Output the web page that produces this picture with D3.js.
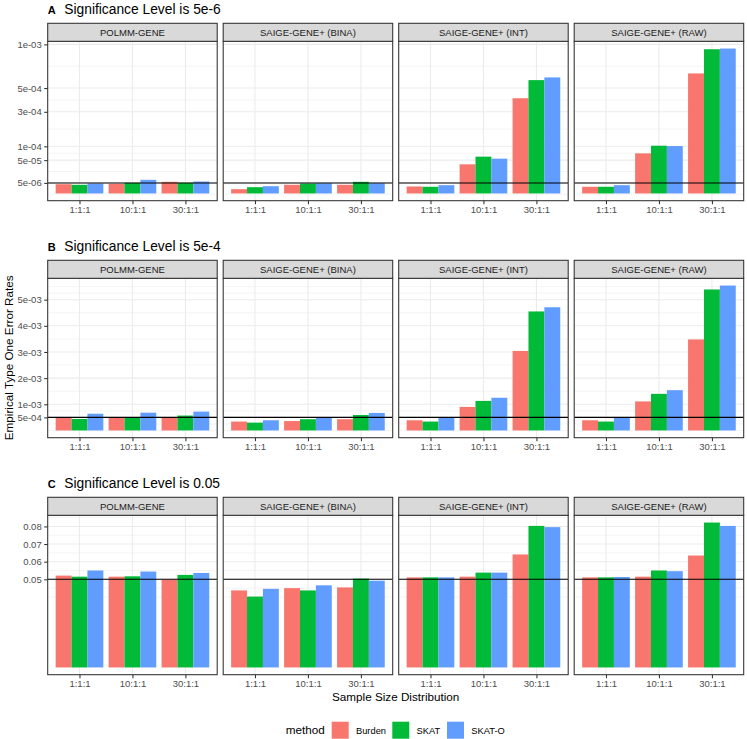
<!DOCTYPE html>
<html>
<head>
<meta charset="utf-8">
<script src="https://cdn.jsdelivr.net/npm/d3@7"></script>
<style>
  html, body { margin: 0; padding: 0; background: #fff; }
  svg { display: block; font-family: "Liberation Sans", Arial, sans-serif; }
</style>
</head>
<body>
<svg id="chart" width="747" height="739"></svg>
<script>
// ---------------- data ----------------
const facets = ["POLMM-GENE", "SAIGE-GENE+ (BINA)", "SAIGE-GENE+ (INT)", "SAIGE-GENE+ (RAW)"];
const ratios = ["1:1:1", "10:1:1", "30:1:1"];
const methods = ["Burden", "SKAT", "SKAT-O"];
const methodColors = ["#F8766D", "#00BA38", "#619CFF"];

// values[facet][ratio][method]
const valuesA = [
  [[3.85e-6, 3.37e-6, 4.45e-6], [4.19e-6, 5.1e-6, 8.35e-6], [6.09e-6, 5.1e-6, 6.41e-6]],
  [[8.2e-7, 1.77e-6, 2.37e-6], [3.37e-6, 4.45e-6, 4.72e-6], [3.37e-6, 6.09e-6, 4.72e-6]],
  [[2.18e-6, 2.0e-6, 3.07e-6], [3.82e-5, 6.09e-5, 5.45e-5], [4.08e-4, 5.78e-4, 6.06e-4]],
  [[2.0e-6, 2.0e-6, 3.07e-6], [7.23e-5, 1.025e-4, 1.01e-4], [6.48e-4, 9.36e-4, 9.45e-4]]
];
const valuesB = [
  [[0.49e-3, 0.44e-3, 0.64e-3], [0.49e-3, 0.50e-3, 0.68e-3], [0.49e-3, 0.57e-3, 0.72e-3]],
  [[0.34e-3, 0.30e-3, 0.39e-3], [0.36e-3, 0.43e-3, 0.49e-3], [0.43e-3, 0.59e-3, 0.67e-3]],
  [[0.39e-3, 0.34e-3, 0.49e-3], [0.90e-3, 1.13e-3, 1.25e-3], [3.04e-3, 4.55e-3, 4.71e-3]],
  [[0.39e-3, 0.34e-3, 0.49e-3], [1.11e-3, 1.40e-3, 1.54e-3], [3.48e-3, 5.39e-3, 5.54e-3]]
];
const valuesC = [
  [[0.0521, 0.0515, 0.0550], [0.0515, 0.0517, 0.0544], [0.0498, 0.0525, 0.0536]],
  [[0.0437, 0.0402, 0.0446], [0.0450, 0.0437, 0.0466], [0.0454, 0.0504, 0.0492]],
  [[0.0511, 0.0511, 0.0511], [0.0515, 0.0538, 0.0538], [0.0641, 0.0803, 0.0796]],
  [[0.0511, 0.0511, 0.0513], [0.0515, 0.0550, 0.0546], [0.0635, 0.0822, 0.0803]]
];

const breaksA = [5e-6, 5e-5, 1e-4, 3e-4, 5e-4, 1e-3];
const labelsA = ["5e-06", "5e-05", "1e-04", "3e-04", "5e-04", "1e-03"];
const breaksB = [5e-4, 1e-3, 2e-3, 3e-3, 4e-3, 5e-3];
const labelsB = ["5e-04", "1e-03", "2e-03", "3e-03", "4e-03", "5e-03"];
const breaksC = [0.05, 0.06, 0.07, 0.08];
const labelsC = ["0.05", "0.06", "0.07", "0.08"];

const tags = ["A", "B", "C"];
const titles = ["Significance Level is 5e-6", "Significance Level is 5e-4", "Significance Level is 0.05"];
const alphaLevels = [5e-6, 5e-4, 0.05];

const yTitle = "Empirical Type One Error Rates";
const xTitle = "Sample Size Distribution";
const legendTitle = "method";

// ---------------- layout ----------------
const svg = d3.select("#chart");
const panelLeft = 47.7, panelW = 169.5, panelGap = 6;
const panelH = 159.4, stripH = 18;
const rowTops = [41.3, 278.3, 515.3];

const rows = [
  { values: valuesA, breaks: breaksA, labels: labelsA, sqrt: true },
  { values: valuesB, breaks: breaksB, labels: labelsB, sqrt: false },
  { values: valuesC, breaks: breaksC, labels: labelsC, sqrt: false }
];

const fs = { tick: 9.5, strip: 9.5, title: 13.8, tag: 11, axisTitle: 11.7, legendText: 9.3 };

const defs = svg.append("defs");

rows.forEach((row, ri) => {
  const top = rowTops[ri];
  const bottom = top + panelH;
  const dmax = d3.max(row.values.flat(2));
  const pad = panelH * 0.05 / 1.1;
  const y = (row.sqrt ? d3.scaleSqrt() : d3.scaleLinear())
    .domain([0, dmax]).range([bottom - pad, top + pad]);

  const tf = row.sqrt ? (v => v < 0 ? -Math.sqrt(-v) : Math.sqrt(v)) : (v => v);
  const itf = row.sqrt ? (t => t < 0 ? -t * t : t * t) : (t => t);

  // ggplot-like minor breaks (transformed space)
  let tb = row.breaks.map(tf);
  const bd = tb[1] - tb[0];
  if (0 < tb[0]) tb = [tb[0] - bd].concat(tb);
  if (tf(dmax) > tb[tb.length - 1]) tb = tb.concat([tb[tb.length - 1] + bd]);
  const minor = [];
  for (let i = 0; i < tb.length - 1; i++) { minor.push(tb[i]); minor.push((tb[i] + tb[i + 1]) / 2); }
  minor.push(tb[tb.length - 1]);
  const majorT = row.breaks.map(tf);
  const minorVals = minor.filter(t => !majorT.some(m => Math.abs(m - t) < 1e-12)).map(itf);

  // Tag + title
  svg.append("text").attr("x", 47.7).attr("y", top - stripH - 9.3)
    .attr("font-size", fs.tag).attr("font-weight", "bold").attr("fill", "#000").text(tags[ri]);
  svg.append("text").attr("x", 64.3).attr("y", top - stripH - 9.3)
    .attr("font-size", fs.title).attr("fill", "#000").text(titles[ri]);

  facets.forEach((facet, fi) => {
    const x0 = panelLeft + fi * (panelW + panelGap);
    const x = d3.scalePoint().domain(ratios).range([x0, x0 + panelW]).padding(0.6);
    const inner = d3.scaleBand().domain(methods).range([0, x.step() * 0.9]).padding(0);

    const clipId = `clip-${ri}-${fi}`;
    defs.append("clipPath").attr("id", clipId).append("rect")
      .attr("x", x0).attr("y", top).attr("width", panelW).attr("height", panelH);

    const g = svg.append("g");
    g.append("rect").attr("x", x0).attr("y", top).attr("width", panelW).attr("height", panelH)
      .attr("fill", "#fff");

    const gg = g.append("g").attr("clip-path", `url(#${clipId})`);
    // minor y grid
    gg.selectAll(".minor").data(minorVals).join("line")
      .attr("x1", x0).attr("x2", x0 + panelW)
      .attr("y1", d => y(d)).attr("y2", d => y(d))
      .attr("stroke", "#EBEBEB").attr("stroke-width", 0.55);
    // major y grid
    gg.selectAll(".major").data(row.breaks).join("line")
      .attr("x1", x0).attr("x2", x0 + panelW)
      .attr("y1", d => y(d)).attr("y2", d => y(d))
      .attr("stroke", "#EBEBEB").attr("stroke-width", 1.07);
    // major x grid
    gg.selectAll(".xg").data(ratios).join("line")
      .attr("x1", d => x(d)).attr("x2", d => x(d))
      .attr("y1", top).attr("y2", bottom)
      .attr("stroke", "#EBEBEB").attr("stroke-width", 1.07);

    // bars
    const vals = row.values[fi];
    ratios.forEach((r, rj) => {
      const gx = x(r) - x.step() * 0.45;
      gg.selectAll(null).data(methods).join("rect")
        .attr("x", m => gx + inner(m))
        .attr("width", inner.bandwidth())
        .attr("y", (m, k) => y(vals[rj][k]))
        .attr("height", (m, k) => y(0) - y(vals[rj][k]))
        .attr("fill", (m, k) => methodColors[k]);
    });

    // significance line
    gg.append("line").attr("x1", x0).attr("x2", x0 + panelW)
      .attr("y1", y(alphaLevels[ri])).attr("y2", y(alphaLevels[ri]))
      .attr("stroke", "#000").attr("stroke-width", 1.07);

    // border
    g.append("rect").attr("x", x0).attr("y", top).attr("width", panelW).attr("height", panelH)
      .attr("fill", "none").attr("stroke", "#333333").attr("stroke-width", 1.07);

    // strip
    g.append("rect").attr("x", x0).attr("y", top - stripH).attr("width", panelW).attr("height", stripH)
      .attr("fill", "#D9D9D9").attr("stroke", "#333333").attr("stroke-width", 1.07);
    g.append("text").attr("x", x0 + panelW / 2).attr("y", top - stripH / 2)
      .attr("dy", "0.36em").attr("text-anchor", "middle")
      .attr("font-size", fs.strip).attr("fill", "#1A1A1A").text(facet);

    // x axis
    const xa = g.append("g").attr("transform", `translate(0,${bottom})`)
      .call(d3.axisBottom(x).tickSize(3.5).tickPadding(2.5));
    xa.select(".domain").remove();
    xa.selectAll(".tick line").attr("stroke", "#333333").attr("stroke-width", 1.07);
    xa.selectAll(".tick text").attr("font-size", fs.tick).attr("fill", "#4D4D4D")
      .attr("font-family", "Liberation Sans, Arial, sans-serif");

    // y axis (first facet only)
    if (fi === 0) {
      const ya = g.append("g").attr("transform", `translate(${x0},0)`)
        .call(d3.axisLeft(y).tickValues(row.breaks).tickFormat((d, i) => row.labels[i])
          .tickSize(3.5).tickPadding(2.5));
      ya.select(".domain").remove();
      ya.selectAll(".tick line").attr("stroke", "#333333").attr("stroke-width", 1.07);
      ya.selectAll(".tick text").attr("font-size", fs.tick).attr("fill", "#4D4D4D")
        .attr("font-family", "Liberation Sans, Arial, sans-serif");
    }
  });
});

// axis titles
svg.append("text").attr("transform", "translate(13.2,357.8) rotate(-90)")
  .attr("text-anchor", "middle").attr("font-size", fs.axisTitle).attr("fill", "#000").text(yTitle);
svg.append("text").attr("x", panelLeft + (4 * panelW + 3 * panelGap) / 2).attr("y", 700.8)
  .attr("text-anchor", "middle").attr("font-size", fs.axisTitle).attr("fill", "#000").text(xTitle);

// legend
const lg = svg.append("g");
lg.append("text").attr("x", 285.7).attr("y", 734.2).attr("font-size", fs.axisTitle)
  .attr("fill", "#000").text(legendTitle);
const keyX = [331.7, 392.3, 447];
methods.forEach((m, i) => {
  lg.append("rect").attr("x", keyX[i]).attr("y", 721.7).attr("width", 17).attr("height", 17)
    .attr("fill", methodColors[i]);
  lg.append("text").attr("x", keyX[i] + 24.3).attr("y", 733.5).attr("font-size", fs.legendText)
    .attr("fill", "#000").text(m);
});
</script>
</body>
</html>
